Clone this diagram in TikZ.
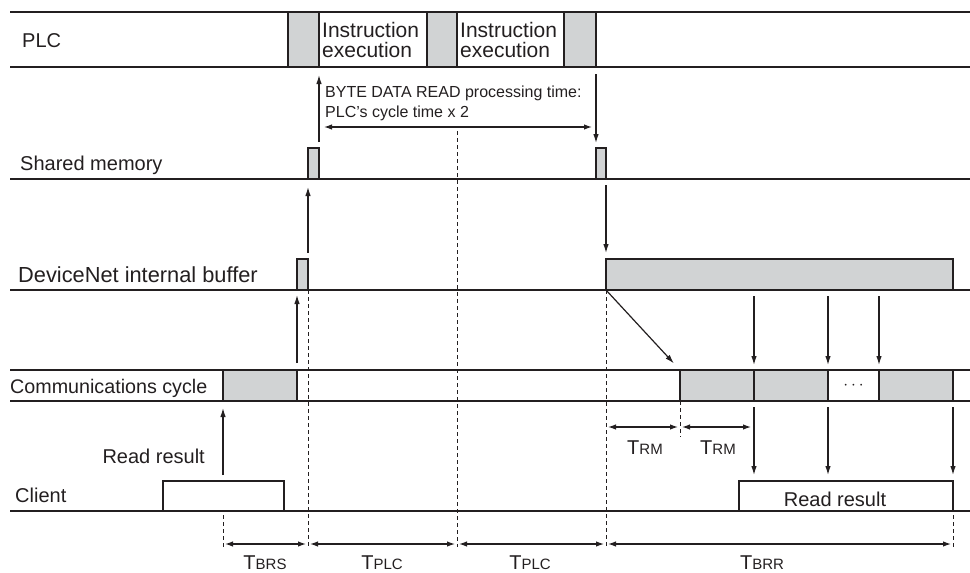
\documentclass[tikz,border=0pt]{standalone}
\usepackage{fontspec}
\setmainfont{Liberation Sans}
\usetikzlibrary{arrows.meta,calc}
\definecolor{ink}{HTML}{231F20}
\definecolor{gfill}{HTML}{D1D3D4}
\begin{document}
\begin{tikzpicture}[x=1pt,y=-1pt,
  hline/.style={draw=ink,line width=1.4pt},
  gbox/.style={draw=ink,fill=gfill,line width=1.1pt,inner sep=0pt,outer sep=0pt,anchor=south west},
  wbox/.style={draw=ink,fill=white,line width=1.1pt,inner sep=0pt,outer sep=0pt,anchor=south west},
  arr/.style={draw=ink,line width=1.2pt,-{Latex[length=9pt,width=5.5pt]}},
  darr/.style={draw=ink,line width=1.2pt,{Latex[length=8pt,width=5.5pt]}-{Latex[length=8pt,width=5.5pt]}},
  dashln/.style={draw=ink,line width=0.9pt,dash pattern=on 4pt off 3pt},
  lbl/.style={font=\fontsize{20}{20}\selectfont,text=ink,inner sep=0pt,anchor=base west},
  tlbl/.style={font=\fontsize{20}{20}\selectfont,text=ink,inner sep=0pt,anchor=base},
  twoline/.style={text=ink,inner sep=0pt,anchor=base west,align=left},
]
\useasboundingbox (0,0) rectangle (970,573);
\newcommand{\subsm}[1]{{\fontsize{15}{15}\selectfont #1}}
% horizontal rules
\draw[hline] (10,12) -- (970,12);
\draw[hline] (10,67) -- (970,67);
\draw[hline] (10,179) -- (970,179);
\draw[hline] (10,290) -- (970,290);
\draw[hline] (10,370) -- (970,370);
\draw[hline] (10,401) -- (970,401);
\draw[hline] (10,511) -- (970,511);
% helper coordinates
\coordinate (yb) at (0,547);
\coordinate (yarr) at (0,127);
\coordinate (ytrm) at (0,427);
\coordinate (ybot) at (0,544);
% PLC row
\node[gbox,minimum width=31pt,minimum height=55pt] (p1) at (288,67) {};
\node[gbox,minimum width=30pt,minimum height=55pt] (p2) at (427,67) {};
\node[gbox,minimum width=32pt,minimum height=55pt] (p3) at (564,67) {};
\node[lbl] (lplc) at (22,47) {PLC};
\node[twoline,font=\fontsize{21}{20}\selectfont] (ie1) at (322,57) {Instruction\\execution};
\node[twoline,font=\fontsize{21}{20}\selectfont] (ie2) at (460,57) {Instruction\\execution};
% BYTE text
\node[twoline,font=\fontsize{16}{20}\selectfont] (bt) at (325,117) {BYTE DATA READ processing time:\\PLC's cycle time x 2};
% Shared memory row
\node[gbox,minimum width=11pt,minimum height=31pt] (s1) at (308,179) {};
\node[gbox,minimum width=10pt,minimum height=31pt] (s2) at (596,179) {};
\node[lbl] (lsm) at (20,170) {Shared memory};
% DeviceNet row
\node[gbox,minimum width=11pt,minimum height=31pt] (d1) at (297,290) {};
\node[gbox,minimum width=347pt,minimum height=31pt] (d2) at (606,290) {};
\node[lbl,font=\fontsize{21.8}{22}\selectfont] (ldn) at (18,282) {DeviceNet internal buffer};
% Communications row
\node[gbox,minimum width=74pt,minimum height=31pt] (c0) at (223,401) {};
\node[gbox,minimum width=74pt,minimum height=31pt] (c1) at (680,401) {};
\node[gbox,minimum width=74pt,minimum height=31pt] (c2) at (754,401) {};
\node[wbox,minimum width=51pt,minimum height=31pt] (c3) at (828,401) {};
\node[gbox,minimum width=74pt,minimum height=31pt] (c4) at (879,401) {};
\node[text=ink,inner sep=0pt,font=\fontsize{16}{16}\selectfont] (dots) at (c3.center) {$\cdots$};
\node[lbl,font=\fontsize{19.7}{20}\selectfont] (lcc) at (10,393) {Communications cycle};
% Client row
\node[wbox,minimum width=121pt,minimum height=30pt] (k1) at (163,511) {};
\node[wbox,minimum width=214pt,minimum height=30pt] (k2) at (739,511) {};
\node[lbl,anchor=base] (rr2) at (835,506) {Read result};
\node[lbl,anchor=base east] (rr1) at (205,463) {Read result};
\node[lbl] (lcl) at (15,502) {Client};
% arrows
\draw[arr,shorten <=6pt,shorten >=8pt] (s1.north east) -- (p1.south east);
\draw[arr,shorten <=6pt,shorten >=8pt] (d1.north east) -- (s1.south west);
\draw[arr,shorten <=7pt,shorten >=5pt] (c0.north east) -- (d1.south west);
\draw[arr,shorten <=7pt,shorten >=5pt] (p3.south east) -- (s2.north west);
\draw[arr,shorten <=6pt,shorten >=6pt] (s2.south east) -- (d2.north west);
\draw[arr,shorten <=1pt,shorten >=9pt] (d2.south west) -- (c1.north west);
\draw[arr,shorten <=6pt,shorten >=5pt] (d2.south west -| c1.north east) -- (c1.north east);
\draw[arr,shorten <=6pt,shorten >=5pt] (d2.south west -| c2.north east) -- (c2.north east);
\draw[arr,shorten <=6pt,shorten >=5pt] (d2.south west -| c4.north west) -- (c4.north west);
\draw[arr,shorten <=6pt,shorten >=6pt] (c1.south east) -- (c1.south east |- k2.north);
\draw[arr,shorten <=6pt,shorten >=6pt] (c2.south east) -- (c2.south east |- k2.north);
\draw[arr,shorten <=6pt,shorten >=6pt] (c4.south east) -- (k2.north east);
\draw[arr,shorten <=6pt,shorten >=7pt] (c0.south west |- k1.north) -- (c0.south west);
% processing time arrow
\draw[darr,shorten <=5pt,shorten >=4pt] (p1.south east |- yarr) -- (s2.north west |- yarr);
% dashed guides
\coordinate (m1) at (457,131);
\draw[dashln] (d1.south east) -- (d1.south east |- yb);
\draw[dashln] (m1) -- (m1 |- yb);
\draw[dashln] (d2.south west) -- (d2.south west |- yb);
\draw[dashln] ($(c0.south west |- k1.south)+(0,4)$) -- (c0.south west |- yb);
\draw[dashln] ($(k2.south east)+(0,4)$) -- (k2.south east |- yb);
\draw[dashln] (c1.south west) -- ($(c1.south west |- ytrm)+(0,10)$);
% TRM
\draw[darr,shorten <=2pt,shorten >=2pt] (d2.south west |- ytrm) -- (c1.south west |- ytrm);
\draw[darr,shorten <=2pt,shorten >=3pt] (c1.south west |- ytrm) -- (c1.south east |- ytrm);
\node[tlbl] (trm1) at (645,454) {T\subsm{RM}};
\node[tlbl] (trm2) at (718,454) {T\subsm{RM}};
% bottom spans
\draw[darr,shorten <=2pt,shorten >=2pt] (c0.south west |- ybot) -- (d1.south east |- ybot);
\draw[darr,shorten <=2pt,shorten >=2pt] (d1.south east |- ybot) -- (m1 |- ybot);
\draw[darr,shorten <=2pt,shorten >=2pt] (m1 |- ybot) -- (d2.south west |- ybot);
\draw[darr,shorten <=2pt,shorten >=2pt] (d2.south west |- ybot) -- (k2.south east |- ybot);
\node[tlbl] (tbrs) at (265,569) {T\subsm{BRS}};
\node[tlbl] (tplc1) at (382,569) {T\subsm{PLC}};
\node[tlbl] (tplc2) at (530,569) {T\subsm{PLC}};
\node[tlbl] (tbrr) at (762,569) {T\subsm{BRR}};
\end{tikzpicture}
\end{document}
